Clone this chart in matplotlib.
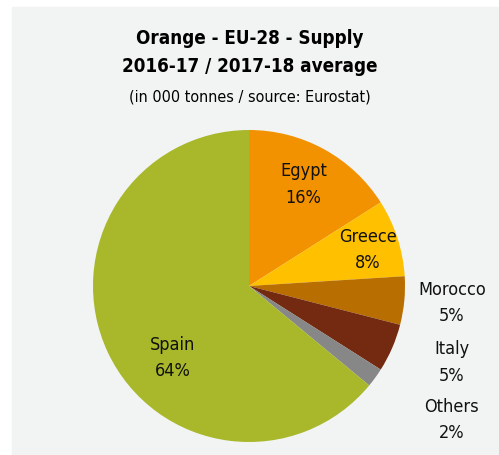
import matplotlib
matplotlib.use("Agg")
import matplotlib.pyplot as plt
from matplotlib.patches import Rectangle

# supply shares (%), clockwise from the top
countries = ["Egypt", "Greece", "Morocco", "Italy", "Others", "Spain"]
shares = [16, 8, 5, 5, 2, 64]
colors = ["#F39200", "#FFC000", "#B86E00", "#732A10", "#878787", "#A8B82A"]

plt.rcParams['font.family'] = ['DejaVu Sans']
plt.rcParams['font.stretch'] = 'condensed'

W, H = 499, 455
fig = plt.figure(figsize=(W / 100, H / 100), dpi=100)
fig.patches.append(Rectangle((12 / W, 0), 1 - 12 / W, (H - 7) / H,
                             transform=fig.transFigure, color="#F2F4F4", zorder=-5))

cx, cy, r = 249, 286, 156
ax = fig.add_axes([(cx - r) / W, (H - cy - r) / H, 2 * r / W, 2 * r / H])
ax.pie(shares, colors=colors, startangle=90, counterclock=False, radius=1,
       wedgeprops=dict(linewidth=0))
ax.set_xlim(-1, 1)
ax.set_ylim(-1, 1)
ax.set_aspect("auto")
ax.set_axis_off()

# label anchors in pie units (inside ones, then the stacked outside ones)
label_pos = {
    "Egypt": (0.35, 0.65),
    "Greece": (0.76, 0.23),
    "Morocco": (1.30, -0.11),
    "Italy": (1.30, -0.49),
    "Others": (1.30, -0.86),
    "Spain": (-0.49, -0.46),
}
for name, val in zip(countries, shares):
    x, y = label_pos[name]
    ax.text(x, y, "%s\n%d%%" % (name, val), ha="center", va="center",
            fontsize=13, linespacing=1.6, color="#111111", clip_on=False)

fig.text(0.5, 1 - 38 / H, "Orange - EU-28 - Supply", ha="center", va="center",
         fontsize=13.5, fontweight="bold")
fig.text(0.5, 1 - 66 / H, "2016-17 / 2017-18 average", ha="center", va="center",
         fontsize=13.5, fontweight="bold")
fig.text(0.5, 1 - 97 / H, "(in 000 tonnes / source: Eurostat)", ha="center",
         va="center", fontsize=11.5)

fig.savefig("out.png", dpi=100)
